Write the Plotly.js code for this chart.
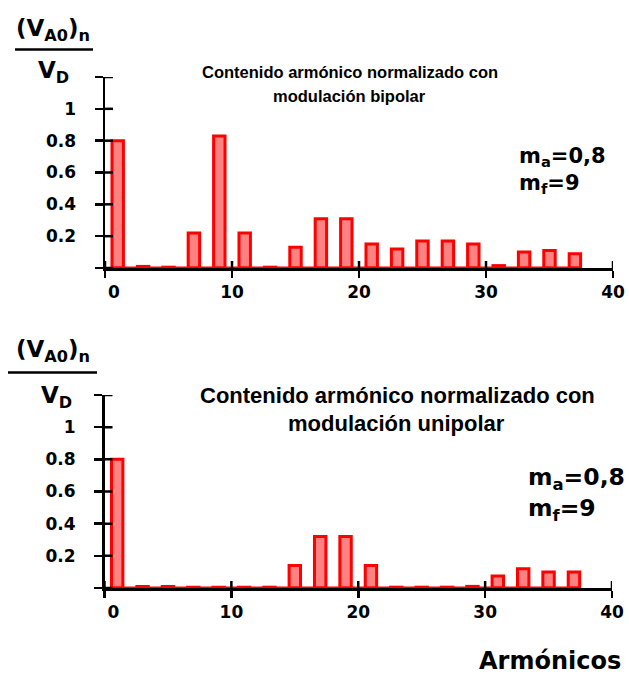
<!DOCTYPE html>
<html>
<head>
<meta charset="utf-8">
<script src="https://cdn.plot.ly/plotly-3.0.1.min.js"></script>
<style>
  html, body { margin: 0; padding: 0; background: #ffffff; }
  #chart { width: 629px; height: 677px; }
</style>
</head>
<body>
<div id="chart"></div>
<script>
// Odd harmonics of the PWM output, normalised amplitude (V_A0)_n / V_D
const harmonics = [1, 3, 5, 7, 9, 11, 13, 15, 17, 19, 21, 23, 25, 27, 29, 31, 33, 35, 37];
const bipolar   = [0.80, 0.01, 0.005, 0.22, 0.83, 0.22, 0.005, 0.13, 0.31, 0.31, 0.15, 0.12, 0.17, 0.17, 0.15, 0.015, 0.10, 0.11, 0.09];
const unipolar  = [0.80, 0.01, 0.01, 0.005, 0.005, 0.005, 0.005, 0.14, 0.32, 0.32, 0.14, 0.005, 0.005, 0.005, 0.01, 0.075, 0.12, 0.10, 0.10];

const xTickVals = [0, 10, 20, 30, 40];
const xTickText = ['\u00a0\u00a0\u00a00', '10', '20', '30', '40'];
const yTickVals = [0.2, 0.4, 0.6, 0.8, 1];
const yTickText = ['0.2', '0.4', '0.6', '0.8', '1'];
const yEndTicks = [0, 1.2];   // unlabelled ticks at both ends of the y axis

const titleTop    = ['Contenido armónico normalizado con', 'modulación bipolar'];
const titleBottom = ['Contenido armónico normalizado con', 'modulación unipolar'];
const paramLines  = ['m<sub>a</sub>=0,8', 'm<sub>f</sub>=9'];
const yLabelNum   = '(V<sub>A0</sub>)<sub>n</sub>';
const yLabelDen   = 'V<sub>D</sub>';
const xLabel      = 'Armónicos';

// ---- page geometry helpers (pixels -> paper fractions) ----
const W = 629, H = 677;
const px = v => v / W;
const py = v => 1 - v / H;

const BAR_WIDTH = 0.9;
const RED = '#ff0000';
const FILL = '#ff8282';
const WIDE = 'DejaVu Sans, Verdana, sans-serif';
const ARIAL = 'Liberation Sans, Arial, sans-serif';
const X_TICK_LEN = 7, Y_TICK_LEN = 8, TICK_W = 2.5;

function barTrace(values, xa, ya) {
  return {
    type: 'bar', x: harmonics, y: values, width: BAR_WIDTH,
    xaxis: xa, yaxis: ya,
    marker: { color: FILL, line: { color: RED, width: 3 } },
    cliponaxis: false, hoverinfo: 'skip'
  };
}

// red base strip running under the whole bar series
function baseTrace(xa, ya) {
  const x0 = harmonics[0] - BAR_WIDTH / 2;
  const x1 = harmonics[harmonics.length - 1] + BAR_WIDTH / 2;
  return {
    type: 'scatter', mode: 'lines', x: [x0, x1], y: [0, 0],
    xaxis: xa, yaxis: ya,
    line: { color: RED, width: 3 },
    cliponaxis: false, hoverinfo: 'skip'
  };
}

const tickFont = { family: WIDE, size: 17, color: '#000', weight: 'bold' };

function mainX(domain, anchor) {
  return {
    domain, anchor, range: [0, 40], fixedrange: true,
    showline: true, linecolor: '#000', linewidth: 2.5,
    ticks: 'outside', ticklen: X_TICK_LEN, tickwidth: TICK_W, tickcolor: '#000',
    tickmode: 'array', tickvals: xTickVals, ticktext: xTickText,
    tickfont: tickFont, ticklabelstandoff: 0,
    showgrid: false, zeroline: false, layer: 'below traces'
  };
}
function mainY(domain, anchor) {
  return {
    domain, anchor, range: [0, 1.2], fixedrange: true,
    showline: true, linecolor: '#000', linewidth: 2.5,
    ticks: 'outside', ticklen: Y_TICK_LEN, tickwidth: TICK_W, tickcolor: '#000',
    tickmode: 'array', tickvals: yTickVals, ticktext: yTickText,
    tickfont: tickFont, ticklabelstandoff: 15,
    minor: { tickmode: 'array', tickvals: yEndTicks, ticks: 'outside', ticklen: Y_TICK_LEN,
             tickwidth: TICK_W, tickcolor: '#000', showgrid: false },
    showgrid: false, zeroline: false
  };
}

// inner half of every tick mark, so the ticks cross the axis lines
function innerTicks(xa, ya) {
  const out = [];
  xTickVals.forEach(v => out.push({
    type: 'line', xref: xa, yref: ya, ysizemode: 'pixel', yanchor: 0,
    x0: v, x1: v, y0: 0, y1: X_TICK_LEN, line: { color: '#000', width: TICK_W }
  }));
  yTickVals.concat(yEndTicks).forEach(v => out.push({
    type: 'line', xref: xa, yref: ya, xsizemode: 'pixel', xanchor: 0,
    x0: 0, x1: Y_TICK_LEN, y0: v, y1: v, line: { color: '#000', width: TICK_W }
  }));
  return out;
}

function note(text, x, y, size, family, xanchor) {
  return {
    text, x: px(x), y: py(y), xref: 'paper', yref: 'paper',
    showarrow: false, xanchor: xanchor || 'left', yanchor: 'middle',
    font: { family, size, color: '#000', weight: 'bold' }
  };
}

const data = [
  barTrace(bipolar, 'x', 'y'),
  baseTrace('x', 'y'),
  barTrace(unipolar, 'x2', 'y2'),
  baseTrace('x2', 'y2')
];

const layout = {
  width: W, height: H,
  margin: { l: 0, r: 0, t: 0, b: 0 },
  paper_bgcolor: '#ffffff', plot_bgcolor: 'rgba(0,0,0,0)',
  showlegend: false, bargap: 0,
  xaxis:  mainX([px(105), px(613)], 'y'),
  yaxis:  mainY([py(268), py(77)], 'x'),
  xaxis2: mainX([px(104.5), px(612)], 'y2'),
  yaxis2: mainY([py(588), py(395)], 'x2'),
  shapes: [
    { type: 'line', xref: 'paper', yref: 'paper', x0: px(15), x1: px(93), y0: py(49.5), y1: py(49.5),
      line: { color: '#000', width: 2.5 } },
    { type: 'line', xref: 'paper', yref: 'paper', x0: px(8), x1: px(97), y0: py(372.5), y1: py(372.5),
      line: { color: '#000', width: 2.5 } }
  ].concat(innerTicks('x', 'y'), innerTicks('x2', 'y2')),
  annotations: [
    note(yLabelNum, 14, 30, 23, WIDE),
    note(yLabelDen, 36, 72, 23, WIDE),
    note(yLabelNum, 14, 351, 23, WIDE),
    note(yLabelDen, 39, 397, 23, WIDE),

    note(titleTop[0], 350, 72, 16.5, ARIAL, 'center'),
    note(titleTop[1], 350, 96, 16.5, ARIAL, 'center'),
    note(titleBottom[0], 397, 396, 22, ARIAL, 'center'),
    note(titleBottom[1], 396, 423, 22, ARIAL, 'center'),

    note(paramLines[0], 517, 157, 21, WIDE),
    note(paramLines[1], 517, 184, 21, WIDE),
    note(paramLines[0], 526, 478, 23.5, WIDE),
    note(paramLines[1], 526, 510, 23.5, WIDE),

    note(xLabel, 623, 661, 24, WIDE, 'right')
  ]
};

Plotly.newPlot('chart', data, layout, { staticPlot: true, displayModeBar: false });
</script>
</body>
</html>
